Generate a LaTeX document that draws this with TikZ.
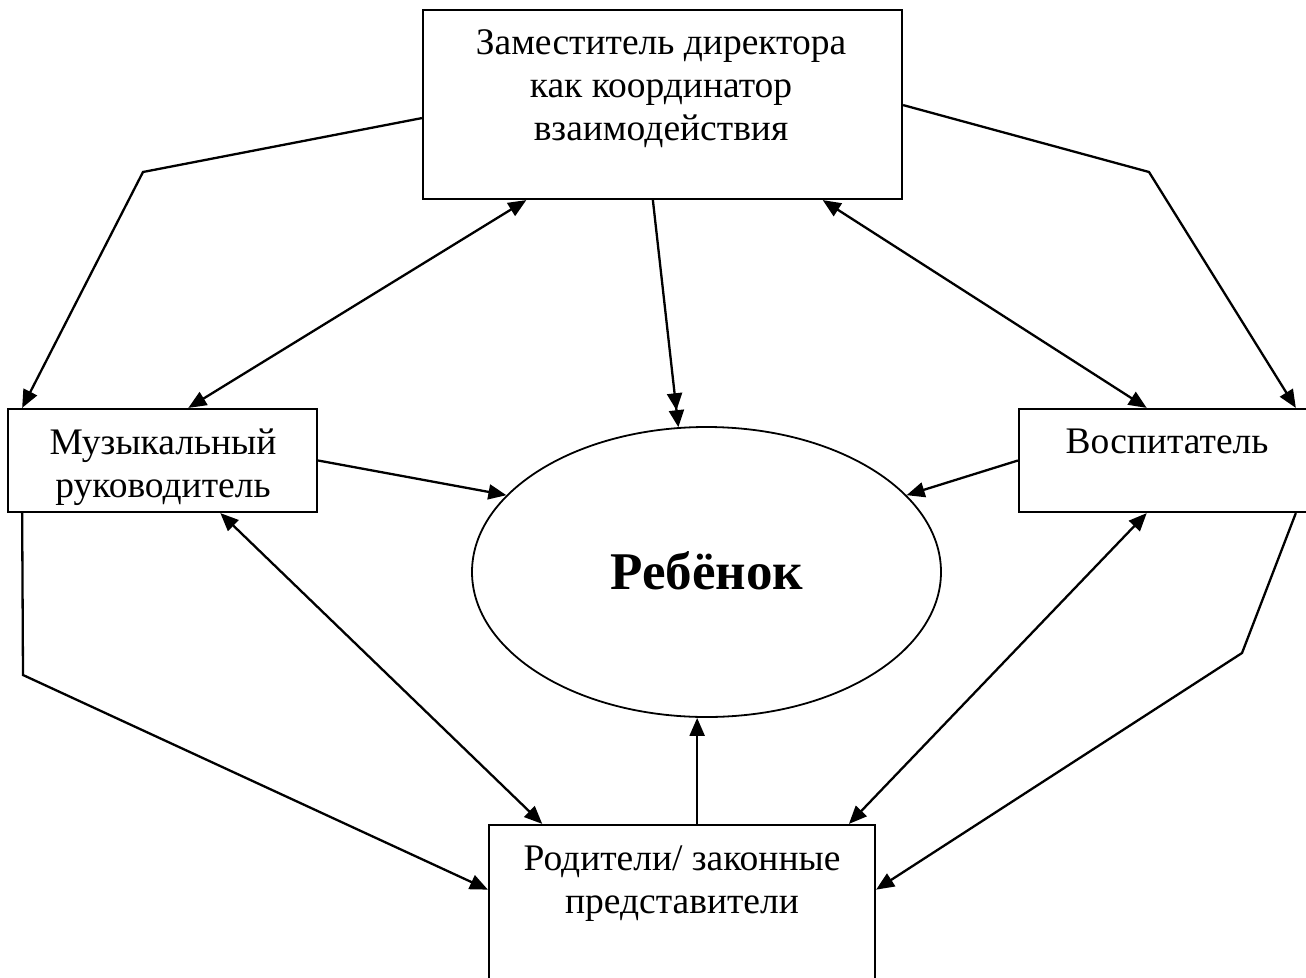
\documentclass[tikz,border=0pt]{standalone}
\usepackage{fontspec}
\setmainfont{Liberation Serif}
\usetikzlibrary{arrows.meta,calc,shapes.geometric}
\tikzset{
  boxshape/.style={draw, line width=2.2pt, rectangle, inner sep=0pt},
  txt/.style={inner sep=0pt, align=center, font=\fontsize{37.5}{43}\selectfont},
  conn/.style={line width=2.3pt, -{Triangle[length=18pt,width=15pt]}},
  dconn/.style={line width=2.3pt, {Triangle[length=18pt,width=15pt]}-{Triangle[length=18pt,width=15pt]}},
  ddconn/.style={line width=2.3pt, -{Triangle[length=17pt,width=15pt]Triangle[length=17pt,width=15pt]}},
  pline/.style={line width=2.3pt, line join=miter, -{Triangle[length=18pt,width=15pt]}}
}
\begin{document}
\begin{tikzpicture}[x=1pt,y=-1pt]
\useasboundingbox (0,0) rectangle (1306,977);
\fill[white] (0,0) rectangle (1306,977);
% boxes
\node[boxshape, minimum width=479pt, minimum height=189pt] (zam) at (662.5,104.5) {};
\node[boxshape, minimum width=309pt, minimum height=103pt] (mus) at (162.5,460.5) {};
\node[boxshape, minimum width=296pt, minimum height=103pt] (vos) at (1167,460.5) {};
\node[boxshape, minimum width=386pt, minimum height=175pt] (rod) at (682,912.5) {};
\node[draw, line width=1.8pt, ellipse, minimum width=469pt, minimum height=290pt, inner sep=0pt] (reb) at (706.5,572) {};
% texts
\node[txt, anchor=north] (zamt) at (661,29) {Заместитель директора\\как координатор\\взаимодействия};
\node[txt, anchor=north] (must) at (163,429) {Музыкальный\\руководитель};
\node[txt, anchor=north] (vost) at (1167,429) {Воспитатель};
\node[txt, anchor=north] (rodt) at (682,846) {Родители/ законные\\представители};
\node[inner sep=0pt, font=\fontsize{53}{60}\selectfont\bfseries] (rebt) at (707,571) {Ребёнок};
% bend points
\coordinate (b1) at (143,172);
\coordinate (b2) at (1149,172);
\coordinate (b3) at (23,675);
\coordinate (b4) at (1242,653);
% polyline connectors
\draw[pline] ($(zam.north west)!0.571!(zam.south west)$) -- (b1) -- ($(mus.north west)!0.049!(mus.north east)$);
\draw[pline] ($(zam.north east)!0.503!(zam.south east)$) -- (b2) -- ($(vos.north west)!0.932!(vos.north east)$);
\draw[pline] ($(mus.south west)!0.049!(mus.south east)$) -- (b3) -- ($(rod.north west)!0.371!(rod.south west)$);
\draw[pline] ($(vos.south west)!0.932!(vos.south east)$) -- (b4) -- ($(rod.north east)!0.371!(rod.south east)$);
% double arrows
\draw[dconn] ($(zam.south west)!0.217!(zam.south east)$) -- ($(mus.north west)!0.583!(mus.north east)$);
\draw[dconn] ($(zam.south west)!0.833!(zam.south east)$) -- ($(vos.north west)!0.432!(vos.north east)$);
\draw[dconn] ($(mus.south west)!0.686!(mus.south east)$) -- ($(rod.north west)!0.14!(rod.north east)$);
\draw[dconn] ($(vos.south west)!0.432!(vos.south east)$) -- ($(rod.north west)!0.93!(rod.north east)$);
% to the child
\draw[conn] (mus.east) -- (reb.159);
\draw[conn] (vos.west) -- (reb.21);
\draw[ddconn] ($(zam.south west)!0.48!(zam.south east)$) -- (reb.101);
\coordinate (rb) at ($(rod.north west)!0.539!(rod.north east)$);
\draw[conn] (rb) -- (rb |- reb.south);
\end{tikzpicture}
\end{document}
